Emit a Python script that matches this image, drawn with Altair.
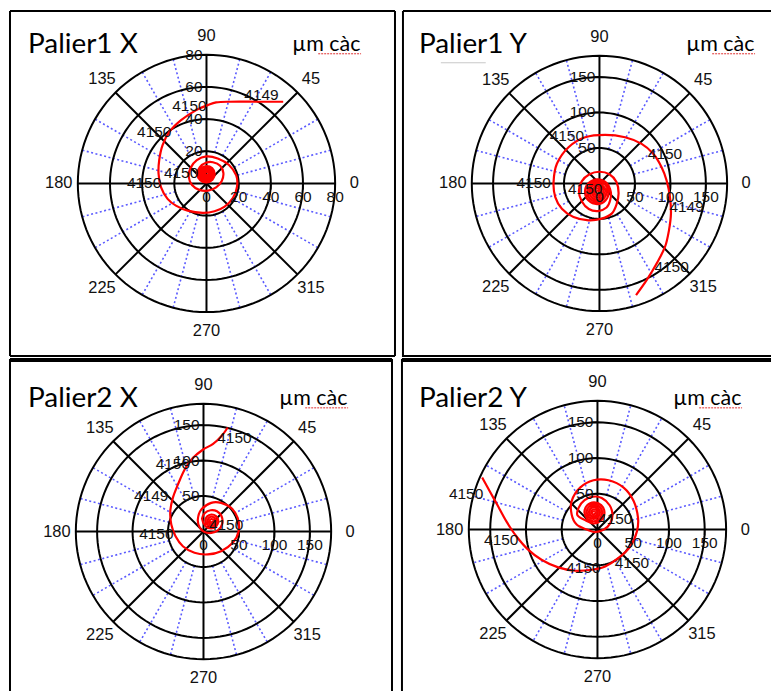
import altair as alt
import numpy as np
import pandas as pd

# ---------------- grid definitions ----------------
ANGLE_TICKS = [0, 45, 90, 135, 180, 225, 270, 315]
DOTTED_ANGLES = [15, 30, 60, 75, 105, 120, 150, 165, 195, 210, 240, 255, 285, 300, 330, 345]

SMALL_RINGS = [20, 40, 60, 80]
SMALL_MAX = 80
SMALL_VLABELS = [20, 40, 60, 80]
SMALL_HLABELS = [0, 20, 40, 60, 80]

BIG_RINGS = [50, 100, 150, 180]
BIG_MAX = 180
BIG_VLABELS = [50, 100, 150]
BIG_HLABELS = [0, 50, 100, 150]

# ---------------- curves (µm, x / y components), outer end -> slow-roll centre ----------------
P1X_X = [47.7, 33.1, 14.4, 6.0, 0.8, -6.4, -15.8, -23.1, -27.3, -29.4, -29.8, -28.3, -24.2, -19.0, -11.7, -2.3,
         5, 11.3, 16.5, 19, 18.5, 14, 7, 0, -6, -10, -11, -9, -4.5, 1, 6, 9.5, 10.5, 8.5, 4, 0,
         -4.14, -5.7, -3.92, 0, 3.71, 5.1, 3.5, 0, -3.29, -4.5, -3.08, 0, 2.86, 3.9, 2.65, 0,
         -2.44, -3.3, -2.23, 0, 2.02, 2.7, 1.8, 0, -1.59, -2.1, -1.38, 0, 1.17, 1.5, 0.95, 0,
         -0.74, -0.9, -0.53, 0, 0.32, 0.3]
P1X_Y = [50.8, 50.8, 50.8, 50.4, 48.7, 45.6, 39.4, 32.1, 23.8, 14.4, 6.0, -2.3, -9.6, -13.8, -16.9, -18.3,
         -17.3, -14.4, -9, -2, 5, 11.5, 15.5, 16.8, 14.5, 9.5, 4, -1, -4, -4.5, -2.5, 1.5, 6.5, 11, 13.2, 13,
         10.14, 6, 2.08, 0.6, 2.29, 6, 9.5, 10.8, 9.29, 6, 2.92, 1.8, 3.14, 6, 8.65, 9.6,
         8.44, 6, 3.77, 3, 3.98, 6, 7.8, 8.4, 7.59, 6, 4.62, 4.2, 4.83, 6, 6.95, 7.2,
         6.74, 6, 5.47, 5.4, 5.68, 6]

P1Y_X = [51.6, 66.5, 80.6, 92.4, 98, 100.8, 99.4, 94.7, 87.6, 75.9, 59.5, 36.1, 8, -20.1, -43.6, -60, -64.7,
         -62.3, -53, -36.6, -15.5, 3.2, 17.3,
         24, 27, 24, 14, 0, -14, -25, -29, -25, -15, -2, 10, 15, 16,
         10.15, -3, -15.59, -20.4, -15.02, -3, 8.46, 12.8, 7.89, -3, -13.32, -17.2, -12.76, -3, 6.19, 9.6,
         5.63, -3, -11.06, -14, -10.5, -3, 3.93, 6.4, 3.36, -3, -8.8, -10.8, -8.23, -3, 1.67, 3.2,
         1.1, -3, -6.54, -7.6, -5.97, -3, -0.6, 0, -1.16, -3, -4.27, -4.4, -3.71, -3]
P1Y_Y = [-157.5, -136.4, -112.9, -89.6, -66.1, -42.6, -19.3, 4.2, 22.9, 41.8, 55.8, 65.1, 68.5, 65.1, 51.1,
         27.7, 1.9, -19.3, -35.6, -47.4, -52, -49.6, -42.6,
         -30, -14, 2, 13, 16.5, 13, 3, -11, -25, -36, -39, -34, -24, -12,
         0.65, 5.7, 0.09, -12.5, -24.52, -29.1, -23.96, -12.5, -1.61, 2.5, -2.18, -12.5, -22.26, -25.9, -21.69,
         -12.5, -3.87, -0.7, -4.44, -12.5, -19.99, -22.7, -19.43, -12.5, -6.14, -3.9, -6.7, -12.5, -17.73, -19.5,
         -17.17, -12.5, -8.4, -7.1, -8.96, -12.5, -15.47, -16.3, -14.9, -12.5, -10.66, -10.3, -11.23, -12.5,
         -13.21, -13.1]

P2X_X = [34.2, 24.9, 13.1, -1, -15, -26.7, -36.1, -43.2, -46.8, -45.4, -39.4, -29.1, -12.7, 6, 24.9, 41.2,
         49.6, 48.2, 39, 24.9, 10.8, -3.2, -8,
         -5.5, 1, 11, 20.5, 26.5, 25.5, 19, 10, 2, -2,
         3.22, 11, 18.21, 20.8, 17.65, 11, 4.92, 2.8, 5.48, 11, 15.95, 17.6, 15.38, 11, 7.18, 6, 7.75, 11,
         13.69, 14.4, 13.12, 11, 9.44, 9.2, 10.01, 11, 11.42]
P2X_Y = [146.7, 134, 123.3, 115.3, 103.6, 87.2, 66.1, 47.4, 28.6, 9.8, -6.6, -20.7, -30, -32.3, -27.7, -15.9,
         0.4, 19.3, 33.3, 40.4, 40.4, 30.9, 16.9,
         6, -0.5, -2, 2, 11, 21.5, 28.5, 30, 26, 18,
         7.22, 4.4, 7.79, 15, 21.65, 24, 21.08, 15, 9.48, 7.6, 10.05, 15, 19.38, 20.8, 18.82, 15, 11.75, 10.8,
         12.31, 15, 17.12, 17.6, 16.56, 15, 14.01, 14, 14.58]

P2Y_X = [-161.3, -150.9, -139.2, -127.6, -113.5, -97, -78.3, -54.9, -31.4, -8, 10.8, 29.5, 46, 55.3, 56.7,
         50.6, 36.6, 15.5, -5.6, -24.3, -36.1, -36.1, -29.1, -15,
         -4, 9, 18, 21, 17, 6, -6, -18, -26, -28,
         -16.3, -5, 5.75, 9.8, 5.18, -5, -14.62, -18.2, -14.05, -5, 3.49, 6.6, 2.92, -5, -12.35, -15,
         -11.79, -5, 1.22, 3.4, 0.66, -5, -10.09, -11.8, -9.53, -5, -1.04, 0.2, -1.61, -5, -7.83, -8.6,
         -7.26, -5, -3.3, -3, -3.87, -5, -5.57, -5.4]
P2Y_Y = [72.7, 53.9, 32.8, 11.7, -9.4, -28.1, -42.2, -53, -57.7, -56.3, -51.6, -39.8, -23.5, -2.3, 16.5, 39.8,
         58.6, 68.9, 68.9, 58.6, 39.8, 21.1, 7, 0,
         -3.5, 0, 9, 21, 34, 44, 46, 41, 31, 20,
         12.7, 8.4, 13.25, 24, 34.18, 38, 33.62, 24, 14.95, 11.6, 15.51, 24, 31.92, 34.8, 31.35, 24,
         17.21, 14.8, 17.78, 24, 29.66, 31.6, 29.09, 24, 19.47, 18, 20.04, 24, 27.39, 28.4, 26.83, 24,
         21.74, 21.2, 22.3, 24, 25.13, 25.2, 24.57, 24]

# ---------------- speed labels (rpm) ----------------
P1X_RPM = {"x": [34.2, -10.6, -32.5, -38.8, -15.8], "y": [55, 48.1, 32.1, 0.2, 6.4],
           "t": ["4149", "4150", "4150", "4150", "4150"]}
P1Y_RPM = {"x": [-46, 92.4, -92.8, -20.1, 122.8, 101.7], "y": [67.5, 41.8, 0.4, -7.5, -33.3, -117.7],
           "t": ["4150", "4150", "4150", "4150", "4149", "4150"]}
P2X_RPM = {"x": [43.6, -43.2, -73.6, -66.5, 31.9], "y": [131.8, 95.2, 49.7, -4.2, 9.8],
           "t": ["4150", "4150", "4149", "4150", "4150"]}
P2Y_RPM = {"x": [-183.8, -134.6, -19.7, 48.2, 24.9], "y": [49.2, -14.1, -53.9, -46.8, 14.1],
           "t": ["4150", "4150", "4150", "4150", "4150"]}

ONE = pd.DataFrame({"k": [0]})
FONT = "Liberation Sans"


def panel(title, cx_list, cy_list, rpm, rings, rmax, vlabels, hlabels,
          W, H, cx, cy, rpx, frame, title_xy, unit_xy, gray_line=None):
    k = rpx / rmax
    sx = alt.Scale(domain=[-cx / k, (W - cx) / k], nice=False, zero=False)
    sy = alt.Scale(domain=[-(H - cy) / k, cy / k], nice=False, zero=False)

    def X(f):
        return alt.X(f, type="quantitative", scale=sx, axis=None)

    def Y(f):
        return alt.Y(f, type="quantitative", scale=sy, axis=None)

    th = np.deg2rad(np.arange(0, 361, 3))
    ring_df = pd.DataFrame([{"ring": r, "i": j, "x": r * np.cos(t), "y": r * np.sin(t)}
                            for r in rings for j, t in enumerate(th)])
    spoke_df = pd.DataFrame([{"x": 0.0, "y": 0.0,
                              "x2": rmax * np.cos(np.deg2rad(a)), "y2": rmax * np.sin(np.deg2rad(a))}
                             for a in ANGLE_TICKS])
    r0 = rings[0]
    dot_df = pd.DataFrame([{"x": r0 * np.cos(np.deg2rad(a)), "y": r0 * np.sin(np.deg2rad(a)),
                            "x2": rmax * np.cos(np.deg2rad(a)), "y2": rmax * np.sin(np.deg2rad(a))}
                           for a in DOTTED_ANGLES])
    tl = 6 / k
    vt = pd.DataFrame({"x": [-tl] * len(vlabels), "x2": [0.0] * len(vlabels),
                       "y": vlabels, "y2": vlabels})
    hv = [v for v in hlabels if v != 0]
    ht = pd.DataFrame({"x": hv, "x2": hv, "y": [0.0] * len(hv), "y2": [-tl] * len(hv)})

    rl = rmax * 147 / 128
    ang_df = pd.DataFrame({"x": [rl * np.cos(np.deg2rad(a)) for a in ANGLE_TICKS],
                           "y": [rl * np.sin(np.deg2rad(a)) for a in ANGLE_TICKS],
                           "t": [str(a) for a in ANGLE_TICKS]})
    vl_df = pd.DataFrame({"x": [0.0] * len(vlabels), "y": vlabels, "t": [str(v) for v in vlabels]})
    hl_df = pd.DataFrame({"x": hlabels, "y": [0.0] * len(hlabels), "t": [str(v) for v in hlabels]})
    curve_df = pd.DataFrame({"i": range(len(cx_list)), "x": cx_list, "y": cy_list})
    rpm_df = pd.DataFrame(rpm)

    layers = [
        alt.Chart(dot_df).mark_rule(color="#5a5aff", strokeWidth=1.6, strokeDash=[2, 2.5]).encode(
            x=X("x"), y=Y("y"), x2="x2", y2="y2"),
        alt.Chart(ring_df).mark_line(color="black", strokeWidth=2).encode(
            x=X("x"), y=Y("y"), detail="ring:N", order="i:Q"),
        alt.Chart(spoke_df).mark_rule(color="black", strokeWidth=2).encode(
            x=X("x"), y=Y("y"), x2="x2", y2="y2"),
        alt.Chart(vt).mark_rule(color="black", strokeWidth=1.5).encode(
            x=X("x"), y=Y("y"), x2="x2", y2="y2"),
        alt.Chart(ht).mark_rule(color="black", strokeWidth=1.5).encode(
            x=X("x"), y=Y("y"), x2="x2", y2="y2"),
        alt.Chart(curve_df).mark_line(color="#ff0000", strokeWidth=2.2, interpolate="cardinal").encode(
            x=X("x"), y=Y("y"), order="i:Q"),
        alt.Chart(ang_df).mark_text(font=FONT, fontSize=16.5, color="#111").encode(
            x=X("x"), y=Y("y"), text="t:N"),
        alt.Chart(vl_df).mark_text(font=FONT, fontSize=15.5, align="right", dx=-4, color="#111").encode(
            x=X("x"), y=Y("y"), text="t:N"),
        alt.Chart(hl_df).mark_text(font=FONT, fontSize=15.5, dy=14, color="#111").encode(
            x=X("x"), y=Y("y"), text="t:N"),
        alt.Chart(rpm_df).mark_text(font=FONT, fontSize=15.5, color="#111").encode(
            x=X("x"), y=Y("y"), text="t:N"),
    ]
    # frame lines (pixel positions)
    for (x1, y1, x2, y2, w) in frame:
        enc = dict(x=alt.value(x1), y=alt.value(y1))
        if x2 != x1:
            enc["x2"] = alt.value(x2)
        if y2 != y1:
            enc["y2"] = alt.value(y2)
        layers.append(alt.Chart(ONE).mark_rule(color="black", strokeWidth=w).encode(**enc))
    layers.append(alt.Chart(ONE).mark_text(font="Lato", fontSize=28, align="left", baseline="alphabetic",
                                           color="black").encode(
        x=alt.value(title_xy[0]), y=alt.value(title_xy[1]), text=alt.value(title)))
    layers.append(alt.Chart(ONE).mark_text(font="Lato", fontSize=21.5, align="left", baseline="alphabetic",
                                           color="black").encode(
        x=alt.value(unit_xy[0]), y=alt.value(unit_xy[1]), text=alt.value("µm càc")))
    layers.append(alt.Chart(ONE).mark_rule(color="#e03030", strokeWidth=1, strokeDash=[2, 1]).encode(
        x=alt.value(unit_xy[0] + 26), x2=alt.value(unit_xy[0] + 69),
        y=alt.value(unit_xy[1] + 3)))
    if gray_line:
        layers.append(alt.Chart(ONE).mark_rule(color="#c8c8c8", strokeWidth=1).encode(
            x=alt.value(gray_line[0]), x2=alt.value(gray_line[1]), y=alt.value(gray_line[2])))
    return alt.layer(*layers).properties(width=W, height=H)


W1, W2, H1, H2 = 392, 373, 349, 335

p1 = panel("Palier1 X", P1X_X, P1X_Y, P1X_RPM, SMALL_RINGS, SMALL_MAX, SMALL_VLABELS, SMALL_HLABELS,
           W1, H1, 199, 175, 129,
           [(2, 2, 388, 2, 2), (2, 2, 2, 348, 2), (388, 2, 388, 348, 2), (2, 348, 388, 348, 2)],
           (20, 44), (285, 42))
p2 = panel("Palier1 Y", P1Y_X, P1Y_Y, P1Y_RPM, BIG_RINGS, BIG_MAX, BIG_VLABELS, BIG_HLABELS,
           W2, H1, 201, 175, 128,
           [(4, 2, 373, 2, 2), (4, 2, 4, 349, 2), (4, 348, 373, 348, 2)],
           (20, 44), (288, 42), gray_line=(42, 87, 54))
p3 = panel("Palier2 X", P2X_X, P2X_Y, P2X_RPM, BIG_RINGS, BIG_MAX, BIG_VLABELS, BIG_HLABELS,
           W1, H2, 196, 175, 128,
           [(2, 3, 385, 3, 4), (2, 2, 2, 335, 2), (385, 2, 385, 335, 2)],
           (20, 50), (272, 48))
p4 = panel("Palier2 Y", P2Y_X, P2Y_Y, P2Y_RPM, BIG_RINGS, BIG_MAX, BIG_VLABELS, BIG_HLABELS,
           W2, H2, 199, 173, 129,
           [(3, 3, 373, 3, 4), (3, 2, 3, 335, 2)],
           (20, 50), (275, 48))

chart = alt.concat(p1, p2, p3, p4, columns=2, spacing=0, bounds="flush").configure_view(
    stroke=None).properties(padding=0, background="white")

chart.save("out.html", embed_options={"renderer": "svg", "actions": False})
